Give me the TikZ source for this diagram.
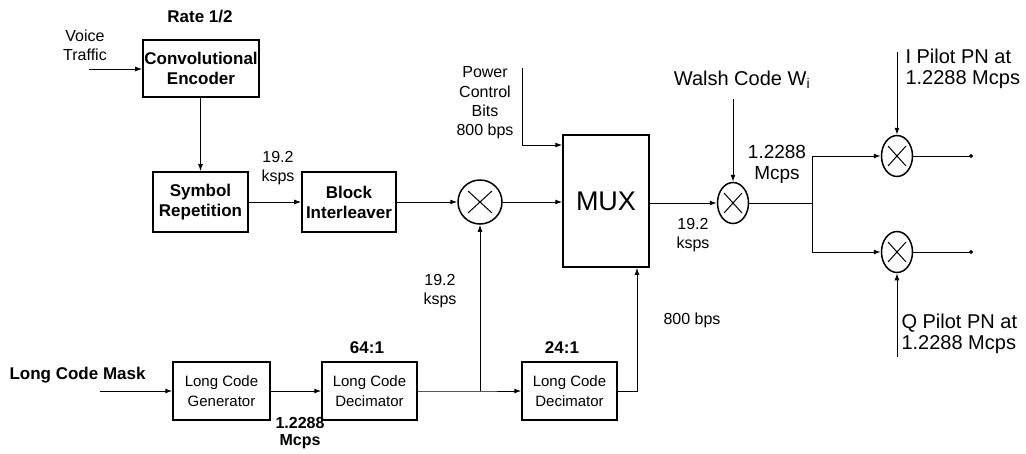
\documentclass[tikz,border=0pt]{standalone}
\usepackage{fontspec}
\setmainfont{Liberation Sans}
\usepackage{tikz}
\usetikzlibrary{arrows.meta,shapes.geometric}

\newcommand{\blkfont}{\fontsize{17}{20}\selectfont\bfseries}
\newcommand{\lcfont}{\fontsize{15}{20}\selectfont}
\newcommand{\lblfont}{\fontsize{16}{19}\selectfont}
\newcommand{\bigfont}{\fontsize{20}{21}\selectfont}

\tikzset{
    block/.style={draw, line width=1.7pt, inner sep=0pt, align=center, font=\blkfont},
    lcblock/.style={block, line width=1.5pt, font=\lcfont},
    lbl/.style={align=center, font=\lblfont},
    sig/.style={line width=1pt, -{Latex[length=7pt,width=5pt]}},
    wire/.style={line width=1pt},
    outp/.style={line width=1pt, -{Circle[length=4pt]}},
    mixer/.style={draw, circle, line width=1.5pt, minimum size=44pt, inner sep=0pt,
        path picture={
            \draw[line width=1pt] ([shift={(-12pt,-11pt)}]path picture bounding box.center)
                -- ([shift={(12pt,11pt)}]path picture bounding box.center);
            \draw[line width=1pt] ([shift={(-12pt,11pt)}]path picture bounding box.center)
                -- ([shift={(12pt,-11pt)}]path picture bounding box.center);}},
    smallmix/.style={draw, ellipse, line width=1.5pt, minimum width=31pt, minimum height=41pt, inner sep=0pt,
        path picture={
            \draw[line width=1pt] ([shift={(-9pt,-10pt)}]path picture bounding box.center)
                -- ([shift={(9pt,10pt)}]path picture bounding box.center);
            \draw[line width=1pt] ([shift={(-9pt,10pt)}]path picture bounding box.center)
                -- ([shift={(9pt,-10pt)}]path picture bounding box.center);}},
}

\begin{document}
\begin{tikzpicture}[x=1pt, y=-1pt]

    \useasboundingbox (0,0) rectangle (1026,453);

    % Upper chain
    \node[block, minimum width=116pt, minimum height=57pt] (enc) at (201,68.5) {Convolutional\\Encoder};
    \node[block, minimum width=95pt, minimum height=60pt] (rep) at (200.5,202) {Symbol\\Repetition};
    \node[block, minimum width=94pt, minimum height=60pt] (ilv) at (349,202) {Block\\Interleaver};
    \node[mixer] (mul) at (480,202) {};
    \node[draw, line width=1.5pt, minimum width=86pt, minimum height=132pt, font=\fontsize{27}{27}\selectfont] (mux) at (606,201) {MUX};
    \node[smallmix] (walsh) at (733,203) {};
    \node[smallmix] (ipn) at (897,156) {};
    \node[smallmix] (qpn) at (897,252) {};

    % Lower chain
    \node[lcblock, minimum width=97pt, minimum height=58pt] (gen) at (221.5,391) {Long Code\\Generator};
    \node[lcblock, minimum width=95pt, minimum height=58pt] (dec1) at (369.5,391) {Long Code\\Decimator};
    \node[lcblock, minimum width=95pt, minimum height=58pt] (dec2) at (569.5,391) {Long Code\\Decimator};

    % Labels
    \node[font=\blkfont] (rate) at (200,17) {Rate 1/2};
    \node[lbl] (voice) at (85,45) {Voice\\Traffic};
    \node[lbl] (r1) at (278,168) {19.2\\ksps};
    \node[lbl, font=\fontsize{16}{19.3}\selectfont] (pwr) at (485,103) {Power\\Control\\Bits\\800 bps};
    \node[font=\bigfont] (wl) at (742,80) {Walsh Code W\textsubscript{i}};
    \node[lbl, font=\fontsize{19}{21}\selectfont] (r2) at (777,164) {1.2288\\Mcps};
    \node[lbl] (r3) at (693,235) {19.2\\ksps};
    \node[lbl] (r4) at (692,320) {800 bps};
    \node[anchor=west, align=left, font=\bigfont] (il) at (902,69) {I Pilot PN at\\1.2288 Mcps};
    \node[anchor=west, align=left, font=\bigfont] (ql) at (898,334) {Q Pilot PN at\\1.2288 Mcps};
    \node[lbl] (r5) at (440,291) {19.2\\ksps};
    \node[font=\blkfont] (d64) at (367,348) {64:1};
    \node[font=\blkfont] (d24) at (562,348) {24:1};
    \node[anchor=west, font=\blkfont] (mask) at (6,375) {Long Code Mask};
    \node[lbl, font=\fontsize{16}{17}\selectfont\bfseries] (r6) at (300,433) {1.2288\\Mcps};

    % Free ends
    \coordinate (vin) at (89,69);
    \coordinate (ptop) at (522,68);
    \coordinate (pbend) at (522,145);
    \coordinate (wtop) at (733,99);
    \coordinate (split) at (812,203);
    \coordinate (itop) at (897,52);
    \coordinate (qbot) at (897,357);
    \coordinate (iout) at (973,156);
    \coordinate (qout) at (973,252);
    \coordinate (min) at (100,391);
    \coordinate (junc) at (480,391);
    \coordinate (dbend) at (637,391);

    % Connectors
    \draw[sig] (vin) -- (enc.west |- vin);
    \draw[sig] (enc.south -| rep.north) -- (rep.north);
    \draw[sig] (rep) -- (ilv);
    \draw[sig] (ilv) -- (mul);
    \draw[sig] (mul) -- (mux.west |- mul);
    \draw[sig] (ptop) -- (pbend) -- (mux.west |- pbend);
    \draw[sig] (mux.east |- walsh) -- (walsh);
    \draw[sig] (wtop) -- (walsh);
    \draw[wire] (walsh) -- (split);
    \draw[sig] (split) -- (split |- ipn) -- (ipn);
    \draw[sig] (split) -- (split |- qpn) -- (qpn);
    \draw[sig] (itop) -- (ipn);
    \draw[sig] (qbot) -- (qpn);
    \draw[outp] (ipn) -- (iout);
    \draw[outp] (qpn) -- (qout);
    \draw[sig] (min) -- (gen);
    \draw[sig] (gen) -- (dec1);
    \draw[sig] (dec1) -- (junc) -- (dec2);
    \draw[sig] (junc) -- (mul);
    \draw[sig] (dec2) -- (dbend) -- (dbend |- mux.south);

\end{tikzpicture}
\end{document}
